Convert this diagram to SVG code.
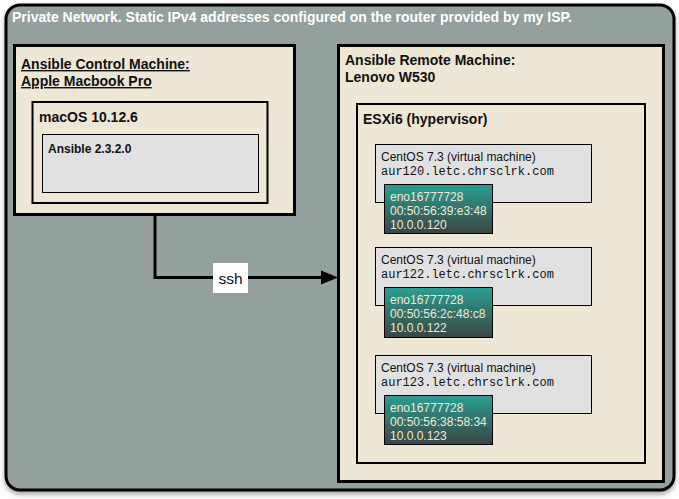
<svg xmlns="http://www.w3.org/2000/svg" width="679" height="499" viewBox="0 0 679 499">
<defs>
<filter id="sh" x="-5%" y="-5%" width="110%" height="110%"><feDropShadow dx="0" dy="3" stdDeviation="2.5" flood-color="#000" flood-opacity="0.35"/></filter>
<linearGradient id="nic" x1="0" y1="0" x2="0" y2="1"><stop offset="0" stop-color="#2a9f92"/><stop offset="1" stop-color="#3c4543"/></linearGradient>
<style>
.t{font-family:"Liberation Sans",Arial,sans-serif}
.b{font-weight:bold}
.beige{fill:#eee7d6;stroke:#000}
.gray{fill:#e1e1e1;stroke:#000;stroke-width:1}
.nic{fill:url(#nic);stroke:#000;stroke-width:1}
.nt{font-family:"Liberation Sans",Arial,sans-serif;font-size:12px;fill:#ecebd9}
.vt{font-family:"Liberation Sans",Arial,sans-serif;font-size:12px;fill:#111}
.mono{font-family:"Liberation Mono","Courier New",monospace;font-size:12px;fill:#111}
</style>
</defs>
<g id="network">
<rect x="6" y="5" width="668" height="485" rx="14" fill="#93a09d" stroke="#000" stroke-width="3" filter="url(#sh)"/>
<text class="t b" x="12" y="22" font-size="14" fill="#fff">Private Network. Static IPv4 addresses configured on the router provided by my ISP.</text>
</g>
<g id="control">
<rect class="beige" x="14.5" y="45.5" width="280" height="169" stroke-width="3"/>
<text class="t b" x="21" y="69" font-size="14" fill="#111" text-decoration="underline">Ansible Control Machine:</text>
<text class="t b" x="21" y="86" font-size="14" fill="#111" text-decoration="underline">Apple Macbook Pro</text>
</g>
<g id="macos">
<rect class="beige" x="32.5" y="102" width="235" height="101" stroke-width="2"/>
<text class="t b" x="39" y="122" font-size="14" fill="#111">macOS 10.12.6</text>
</g>
<g id="ansible">
<rect class="gray" x="42.5" y="134.5" width="216" height="58"/>
<text class="t b" x="48" y="153" font-size="12" fill="#111">Ansible 2.3.2.0</text>
</g>
<g id="remote">
<rect class="beige" x="338.5" y="45.5" width="325" height="436" stroke-width="3"/>
<text class="t b" x="345" y="65" font-size="14" fill="#111">Ansible Remote Machine:</text>
<text class="t b" x="345" y="82" font-size="14" fill="#111">Lenovo W530</text>
</g>
<g id="esxi">
<rect class="beige" x="357" y="104" width="288" height="359" stroke-width="2"/>
<text class="t b" x="363" y="124" font-size="14" fill="#111">ESXi6 (hypervisor)</text>
</g>
<g id="vm120">
<rect class="gray" x="375.5" y="144.5" width="216" height="58"/>
<text class="vt" x="381" y="161">CentOS 7.3 (virtual machine)</text>
<text class="mono" x="381" y="175">aur120.letc.chrsclrk.com</text>
</g>
<g id="nic120">
<rect class="nic" x="384.5" y="184.5" width="108" height="49"/>
<text class="nt" x="390" y="201">eno16777728</text>
<text class="nt" x="390" y="215">00:50:56:39:e3:48</text>
<text class="nt" x="390" y="229">10.0.0.120</text>
</g>
<g id="vm122">
<rect class="gray" x="375.5" y="247.5" width="216" height="58"/>
<text class="vt" x="381" y="264">CentOS 7.3 (virtual machine)</text>
<text class="mono" x="381" y="278">aur122.letc.chrsclrk.com</text>
</g>
<g id="nic122">
<rect class="nic" x="384.5" y="287.5" width="108" height="50"/>
<text class="nt" x="390" y="304">eno16777728</text>
<text class="nt" x="390" y="318">00:50:56:2c:48:c8</text>
<text class="nt" x="390" y="332">10.0.0.122</text>
</g>
<g id="vm123">
<rect class="gray" x="375.5" y="355.5" width="216" height="58"/>
<text class="vt" x="381" y="372">CentOS 7.3 (virtual machine)</text>
<text class="mono" x="381" y="386">aur123.letc.chrsclrk.com</text>
</g>
<g id="nic123">
<rect class="nic" x="384.5" y="395.5" width="108" height="49"/>
<text class="nt" x="390" y="412">eno16777728</text>
<text class="nt" x="390" y="426">00:50:56:38:58:34</text>
<text class="nt" x="390" y="440">10.0.0.123</text>
</g>
<g id="connectors">
<path d="M155,216 V277.5 H322" fill="none" stroke="#000" stroke-width="3"/>
<path d="M321,270.5 L338,277.5 L321,284.5 Z" fill="#000"/>
<rect x="213" y="263" width="35" height="30" fill="#fff"/>
<text class="t" x="230.5" y="284" font-size="15.5" fill="#111" text-anchor="middle">ssh</text>
</g>
</svg>
